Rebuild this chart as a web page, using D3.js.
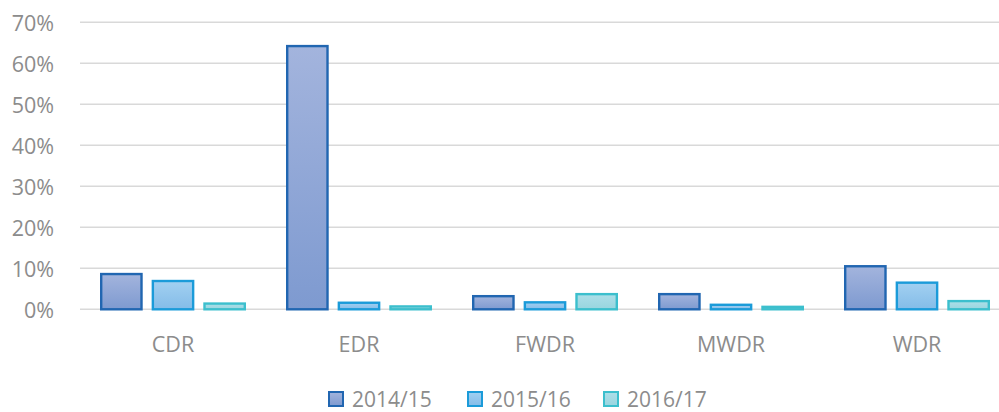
<!DOCTYPE html>
<html lang="en">
<head>
    <meta charset="utf-8">
    <title>Chart</title>
    <style>
        body{ margin:0; background:#fff; }
        #chart{ width:999px; height:412px; }
        text{ font-family:"Open Sans", sans-serif; fill:#8c8c8c; }
    </style>
    <script src="https://cdn.jsdelivr.net/npm/d3@7/dist/d3.min.js"></script>
</head>
<body>
<div id="chart"></div>
<script>
    // data
    var categories = ["CDR", "EDR", "FWDR", "MWDR", "WDR"];
    var seriesNames = ["2014/15", "2015/16", "2016/17"];
    var v2014 = [0.086, 0.642, 0.032, 0.037, 0.105];
    var v2015 = [0.069, 0.016, 0.017, 0.011, 0.065];
    var v2016 = [0.014, 0.007, 0.037, 0.006, 0.020];
    var yTicks = [0, 0.1, 0.2, 0.3, 0.4, 0.5, 0.6, 0.7];

    var seriesValues = [v2014, v2015, v2016];
    var strokes = ["#2166b1", "#1b9bd9", "#3cbfcd"];
    var topFill = ["#a3b4dd", "#a2d0f1", "#addfe8"];
    var botFill = ["#7e9ad0", "#84bce8", "#98d5df"];

    var W = 999, H = 412;
    var svg = d3.select("#chart").append("svg")
        .attr("width", W).attr("height", H);

    // gradients
    var defs = svg.append("defs");
    seriesNames.forEach(function (s, i) {
        var g = defs.append("linearGradient")
            .attr("id", "grad" + i)
            .attr("x1", 0).attr("y1", 0).attr("x2", 0).attr("y2", 1);
        g.append("stop").attr("offset", "0%").attr("stop-color", topFill[i]);
        g.append("stop").attr("offset", "100%").attr("stop-color", botFill[i]);
    });

    var x = d3.scaleBand().domain(categories).range([80, 80 + 5 * 186]);
    var xs = d3.scaleBand().domain(d3.range(3)).range([20, 166]).paddingInner(0.173);
    var y = d3.scaleLinear().domain([0, 0.7]).range([309.3, 22.3]);

    // gridlines
    svg.append("g").selectAll("line")
        .data(yTicks)
        .enter().append("line")
        .attr("x1", 80).attr("x2", W)
        .attr("y1", function (d) { return y(d); })
        .attr("y2", function (d) { return y(d); })
        .attr("stroke", "#d9d9d9")
        .attr("stroke-width", 1.5);

    // y labels
    svg.append("g").selectAll("text")
        .data(yTicks)
        .enter().append("text")
        .attr("x", 54)
        .attr("y", function (d) { return y(d) + 8.3; })
        .attr("text-anchor", "end")
        .style("font-size", "21.5px")
        .text(d3.format(".0%"));

    // bars
    var groups = svg.append("g").selectAll("g")
        .data(categories)
        .enter().append("g")
        .attr("transform", function (d) { return "translate(" + x(d) + ",0)"; });

    groups.selectAll("rect")
        .data(function (d, ci) {
            return seriesValues.map(function (arr, si) { return { s: si, v: arr[ci] }; });
        })
        .enter().append("rect")
        .attr("x", function (d) { return xs(d.s) + 1.2; })
        .attr("width", xs.bandwidth() - 2.4)
        .attr("y", function (d) { return y(d.v); })
        .attr("height", function (d) { return y(0) - y(d.v); })
        .attr("fill", function (d) { return "url(#grad" + d.s + ")"; })
        .attr("stroke", function (d) { return strokes[d.s]; })
        .attr("stroke-width", 2.4);

    // x labels
    svg.append("g").selectAll("text")
        .data(categories)
        .enter().append("text")
        .attr("x", function (d) { return x(d) + x.bandwidth() / 2; })
        .attr("y", 352)
        .attr("text-anchor", "middle")
        .style("font-size", "21.5px")
        .text(function (d) { return d; });

    // legend
    var legX = [328, 467, 603];
    var leg = svg.append("g").selectAll("g")
        .data(seriesNames)
        .enter().append("g")
        .attr("transform", function (d, i) { return "translate(" + legX[i] + ",391)"; });
    leg.append("rect")
        .attr("x", 1).attr("y", 1)
        .attr("width", 14).attr("height", 14)
        .attr("fill", function (d, i) { return "url(#grad" + i + ")"; })
        .attr("stroke", function (d, i) { return strokes[i]; })
        .attr("stroke-width", 2);
    leg.append("text")
        .attr("x", 24).attr("y", 15.5)
        .style("font-size", "21px")
        .text(function (d) { return d; });
</script>
</body>
</html>
